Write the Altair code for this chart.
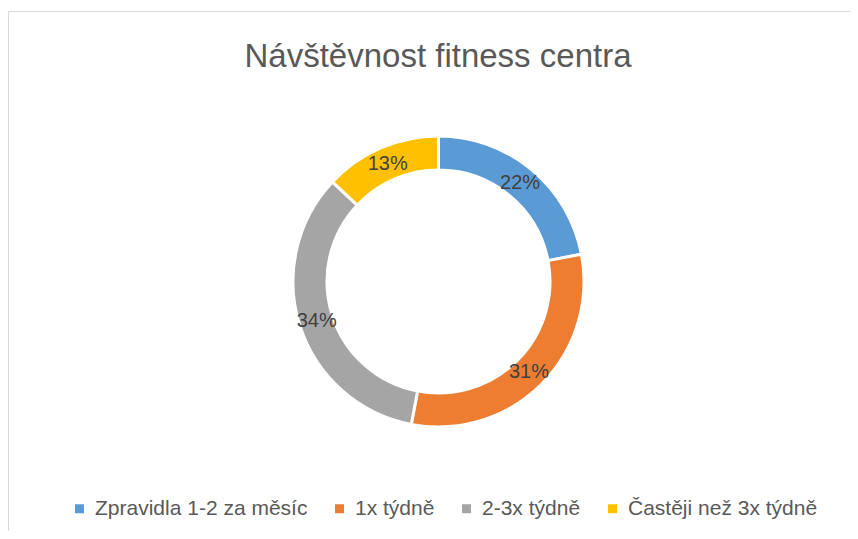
import altair as alt
import pandas as pd

categories = ["Zpravidla 1-2 za měsíc", "1x týdně", "2-3x týdně", "Častěji než 3x týdně"]
values = [22, 31, 34, 13]
labels = ["22%", "31%", "34%", "13%"]
colors = ["#5B9BD5", "#ED7D31", "#A5A5A5", "#FFC000"]
title_text = ["Návštěvnost fitness centra"]

FONT = "Liberation Sans"
CX, CY = 430.5, 273.5

df = pd.DataFrame({"cat": categories, "val": values, "lab": labels, "idx": list(range(len(categories)))})

theta = alt.Theta("val:Q", stack=True)
order = alt.Order("idx:Q")
color = alt.Color(
    "cat:N",
    sort=categories,
    scale=alt.Scale(domain=categories, range=colors),
    legend=alt.Legend(
        title=None,
        orient="none",
        legendX=61,
        legendY=490,
        direction="horizontal",
        symbolType="square",
        symbolSize=81,
        symbolStrokeWidth=0,
        labelFont=FONT,
        labelFontSize=21,
        labelColor="#595959",
        labelOffset=5,
        columnPadding=21,
        padding=0,
        labelLimit=400,
    ),
)

arcs = alt.Chart(df).mark_arc(
    outerRadius=145.5, innerRadius=111.5, stroke="white", strokeWidth=3
).encode(
    theta=theta, order=order, color=color,
    x=alt.value(CX), y=alt.value(CY),
)

texts = alt.Chart(df).mark_text(
    radius=128, font=FONT, fontSize=20, color="#404040"
).encode(
    theta=theta, order=order, text="lab:N",
    x=alt.value(CX), y=alt.value(CY),
)

tdf = pd.DataFrame({"t": title_text})
title = alt.Chart(tdf).mark_text(
    font=FONT, fontSize=33, color="#595959", baseline="middle", align="center"
).encode(text="t:N", x=alt.value(430), y=alt.value(49))

border_top = alt.Chart(tdf).mark_rule(color="#d9d9d9", strokeWidth=1).encode(
    x=alt.value(0), x2=alt.value(842), y=alt.value(3.5)
)
border_left = alt.Chart(tdf).mark_rule(color="#d9d9d9", strokeWidth=2).encode(
    x=alt.value(0), y=alt.value(3), y2=alt.value(523)
)

chart = alt.layer(border_top, border_left, arcs, texts, title).properties(
    width=842, height=523,
    autosize=alt.AutoSizeParams(type="none"),
    padding=0,
).configure_view(stroke=None)

chart.save("out.html", embed_options={"renderer": "svg", "actions": False})
